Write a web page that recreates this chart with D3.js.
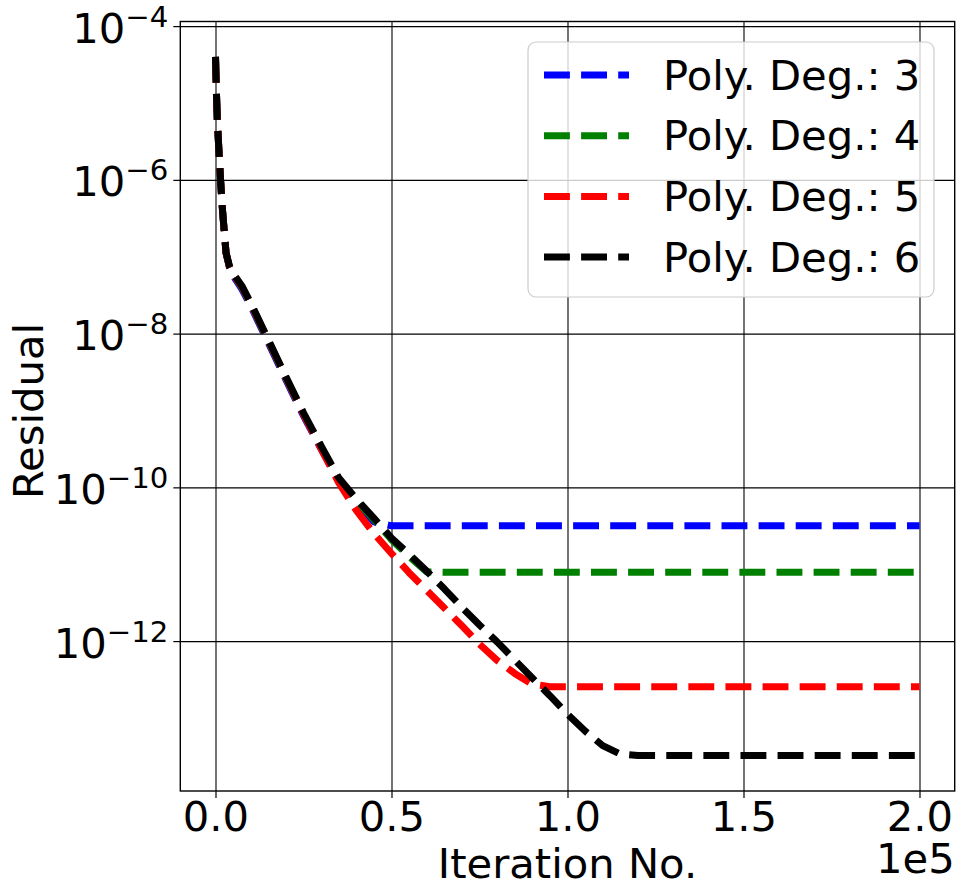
<!DOCTYPE html>
<html>

<head>
	<meta http-equiv="Content-Type" content="text/html;charset=utf-8">
	<title>Residual vs iteration</title>
	<script type="text/javascript" src="https://d3js.org/d3.v7.min.js"></script>

	<style type="text/css">
		body {
			margin: 0;
			background-color: white;
		}

		svg, svg text {
			font-family: "DejaVu Sans", sans-serif;
		}

		.axis .domain {
			stroke: none;
		}

		.axis .tick line {
			stroke: black;
			stroke-width: 1.2;
		}

		.axis text {
			fill: black;
			font-family: "DejaVu Sans", sans-serif;
			font-size: 41.7px;
		}

		.grid .tick line {
			stroke: black;
			stroke-width: 1.1;
		}

		.grid .domain, .grid text {
			display: none;
		}

		.series {
			fill: none;
			stroke-width: 7;
			stroke-dasharray: 25.9, 11.2;
			stroke-linecap: butt;
			stroke-linejoin: round;
		}
	</style>
</head>

<body>
	<div id="chart"></div>

	<script type="text/javascript">
		//data
		var iterations = [0, 250, 500, 1000, 1500, 2000, 2500, 3000, 4000, 5500, 7500, 10000,
			15000, 20000, 25000, 30000, 35000, 40000, 45000, 50000, 55000, 60000, 65000, 70000,
			75000, 80000, 85000, 90000, 95000, 100000, 105000, 110000, 115000, 120000, 200000];

		var deg3 = [3.98e-5, 1.41e-5, 6.31e-6, 2.24e-6, 8.91e-7, 3.98e-7, 2.09e-7, 1.12e-7, 7.08e-8, 5.25e-8, 3.80e-8, 2.29e-8,
			7.59e-9, 2.51e-9, 8.51e-10, 3.16e-10, 1.23e-10, 6.46e-11, 3.55e-11, 3.16e-11, 3.16e-11, 3.16e-11, 3.16e-11, 3.16e-11,
			3.16e-11, 3.16e-11, 3.16e-11, 3.16e-11, 3.16e-11, 3.16e-11, 3.16e-11, 3.16e-11, 3.16e-11, 3.16e-11, 3.16e-11];

		var deg4 = [3.98e-5, 1.41e-5, 6.31e-6, 2.24e-6, 8.91e-7, 3.98e-7, 2.09e-7, 1.12e-7, 7.24e-8, 5.50e-8, 3.98e-8, 2.40e-8,
			7.94e-9, 2.63e-9, 8.91e-10, 3.31e-10, 1.29e-10, 6.76e-11, 3.80e-11, 2.09e-11, 1.26e-11, 7.94e-12, 7.85e-12, 7.85e-12,
			7.85e-12, 7.85e-12, 7.85e-12, 7.85e-12, 7.85e-12, 7.85e-12, 7.85e-12, 7.85e-12, 7.85e-12, 7.85e-12, 7.85e-12];

		var deg5 = [3.98e-5, 1.41e-5, 6.31e-6, 2.24e-6, 8.91e-7, 3.98e-7, 2.09e-7, 1.12e-7, 7.24e-8, 5.50e-8, 4.07e-8, 2.45e-8,
			8.13e-9, 2.69e-9, 8.91e-10, 3.16e-10, 1.15e-10, 5.01e-11, 2.51e-11, 1.38e-11, 7.76e-12, 4.57e-12, 2.69e-12, 1.58e-12,
			9.12e-13, 5.62e-13, 3.80e-13, 2.75e-13, 2.55e-13, 2.55e-13, 2.55e-13, 2.55e-13, 2.55e-13, 2.55e-13, 2.55e-13];

		var deg6 = [3.98e-5, 1.41e-5, 6.31e-6, 2.24e-6, 8.91e-7, 3.98e-7, 2.09e-7, 1.12e-7, 7.41e-8, 5.62e-8, 4.17e-8, 2.51e-8,
			8.32e-9, 2.75e-9, 9.33e-10, 3.47e-10, 1.33e-10, 7.08e-11, 3.98e-11, 2.19e-11, 1.35e-11, 8.13e-12, 4.79e-12, 2.75e-12,
			1.62e-12, 9.77e-13, 5.69e-13, 3.31e-13, 1.95e-13, 1.12e-13, 6.76e-14, 4.37e-14, 3.39e-14, 3.24e-14, 3.24e-14];

		var seriesNames = ["Poly. Deg.: 3", "Poly. Deg.: 4", "Poly. Deg.: 5", "Poly. Deg.: 6"];
		var seriesColors = ["blue", "green", "red", "black"];
		var seriesValues = [deg3, deg4, deg5, deg6];

		var xTicks = [0, 50000, 100000, 150000, 200000];
		var yTicks = [1e-4, 1e-6, 1e-8, 1e-10, 1e-12];
		var yTickExp = ["\u22124", "\u22126", "\u22128", "\u221210", "\u221212"];

		//layout
		var W = 965, H = 896,
			m = [21.5, 10.3, 105, 180.3], //top right bottom left
			w = W - m[1] - m[3],
			h = H - m[0] - m[2];

		var x = d3.scaleLinear()
			.domain([-10000, 210000])
			.range([0, w]);

		var y = d3.scaleLog()
			.domain([Math.pow(10, -13.95), Math.pow(10, -3.94)])
			.range([h, 0]);

		var svg = d3.select("#chart")
			.append("svg")
			.attr("width", W)
			.attr("height", H);

		var main = svg.append("g")
			.attr("transform", "translate(" + m[3] + "," + m[0] + ")");

		// grid
		main.append("g")
			.attr("class", "grid")
			.attr("transform", "translate(0," + h + ")")
			.call(d3.axisBottom(x).tickValues(xTicks).tickSize(-h));
		main.append("g")
			.attr("class", "grid")
			.call(d3.axisLeft(y).tickValues(yTicks).tickSize(-w));

		// lines
		var line = d3.line()
			.x(function(d) { return x(d[0]); })
			.y(function(d) { return y(d[1]); });

		seriesValues.forEach(function(vals, i) {
			var pts = iterations.map(function(it, j) { return [it, vals[j]]; });
			main.append("path")
				.attr("class", "series")
				.attr("stroke", seriesColors[i])
				.attr("d", line(pts));
		});

		// axes (d3 puts font-family="sans-serif" on the g, so reset it)
		main.append("g")
			.attr("class", "axis")
			.attr("transform", "translate(0," + h + ")")
			.call(d3.axisBottom(x)
				.tickValues(xTicks)
				.tickSize(7)
				.tickPadding(3)
				.tickFormat(function(d) { return (d / 1e5).toFixed(1); }))
			.attr("font-family", null);

		var yAxis = main.append("g")
			.attr("class", "axis")
			.call(d3.axisLeft(y)
				.tickValues(yTicks)
				.tickSize(7)
				.tickPadding(5)
				.tickFormat(""))
			.attr("font-family", null);

		yAxis.selectAll(".tick text")
			.attr("dy", null)
			.each(function(d, i) {
				var t = d3.select(this);
				t.append("tspan").attr("dy", 16).text("10");
				t.append("tspan").attr("dy", -16).style("font-size", "29.2px").text(yTickExp[i]);
			});

		// frame
		main.append("rect")
			.attr("width", w)
			.attr("height", h)
			.attr("fill", "none")
			.attr("stroke", "black")
			.attr("stroke-width", 1.4);

		// labels
		svg.append("text")
			.attr("x", m[3] + w / 2)
			.attr("y", 877.7)
			.attr("text-anchor", "middle")
			.style("font-size", "41.7px")
			.text("Iteration No.");

		svg.append("text")
			.attr("x", m[3] + w)
			.attr("y", 873)
			.attr("text-anchor", "end")
			.style("font-size", "41.7px")
			.text("1e5");

		svg.append("text")
			.attr("transform", "translate(43,411) rotate(-90)")
			.attr("text-anchor", "middle")
			.style("font-size", "41.7px")
			.text("Residual");

		// legend
		var legend = svg.append("g");
		legend.append("rect")
			.attr("x", 528)
			.attr("y", 42)
			.attr("width", 406)
			.attr("height", 255)
			.attr("rx", 8)
			.attr("fill", "white")
			.attr("fill-opacity", 0.8)
			.attr("stroke", "#cccccc")
			.attr("stroke-width", 1.2);

		seriesNames.forEach(function(name, i) {
			var ly = 75 + i * 60.7;
			legend.append("line")
				.attr("class", "series")
				.attr("x1", 544)
				.attr("x2", 629)
				.attr("y1", ly)
				.attr("y2", ly)
				.attr("stroke", seriesColors[i]);
			legend.append("text")
				.attr("x", 663)
				.attr("y", ly + 14.5)
				.style("font-size", "41.7px")
				.text(name);
		});
	</script>
</body>

</html>
